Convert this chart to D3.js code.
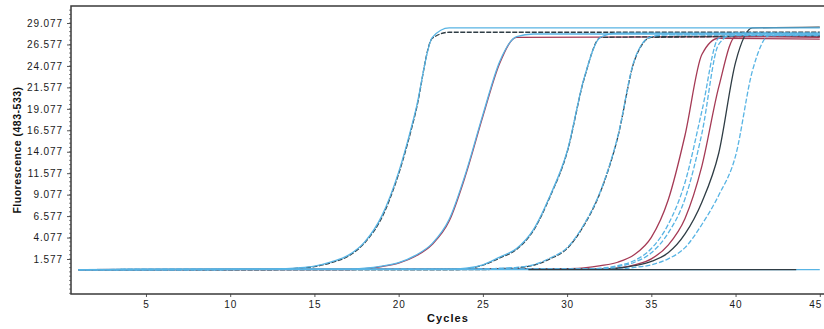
<!DOCTYPE html>
<html>
<head>
<meta charset="utf-8">
<script src="https://cdn.jsdelivr.net/npm/d3@7"></script>
<style>
  body { margin: 0; background: #fff; }
  text { font-family: "Liberation Sans", Arial, sans-serif; }
</style>
</head>
<body>
<div id="chart"></div>
<script>
// tick values
var xTicks = [5, 10, 15, 20, 25, 30, 35, 40, 45];
var yTicks = [1.577, 4.077, 6.577, 9.077, 11.577, 14.077, 16.577, 19.077, 21.577, 24.077, 26.577, 29.077];

// amplification curves, [cycle, fluorescence]
var g1Blue = [[1,0.35],[12,0.4],[13,0.45],[14,0.55],[15,0.75],[16,1.25],[17,2.0],[18,3.6],[19,6.6],[20,11.7],[21,18.8],[22,27.4],[23,28.5],[45,28.5]];
var g1Dark = [[1,0.35],[12,0.33],[13,0.38],[14,0.5],[15,0.7],[16,1.15],[17,1.9],[18,3.5],[19,6.4],[20,11.5],[21,18.6],[22,27.3],[23,28.0],[45,28.0]];
var g2Blue = [[1,0.35],[17,0.4],[18,0.5],[19,0.75],[20,1.15],[21,2.0],[22,3.4],[23,6.2],[24,11.7],[25,18.4],[26,24.6],[27,27.5],[28,27.8],[45,27.8]];
var g2Red  = [[1,0.35],[17,0.33],[18,0.45],[19,0.7],[20,1.1],[21,1.9],[22,3.3],[23,6.0],[24,11.5],[25,18.2],[26,24.4],[27,27.4],[45,27.5]];
var g3Blue = [[1,0.35],[23,0.4],[24,0.5],[25,0.9],[26,1.8],[27,2.8],[28,5.0],[29,9.0],[30,14.1],[31,22.6],[32,27.45],[33,27.9],[45,27.9]];
var g3Dark = [[1,0.35],[23,0.33],[24,0.45],[25,0.85],[26,1.7],[27,2.7],[28,4.9],[29,8.9],[30,14.0],[31,22.5],[32,27.4],[45,27.6]];
var g4Blue = [[1,0.35],[25,0.4],[26,0.5],[27,0.6],[28,0.9],[29,1.7],[30,2.9],[31,5.6],[32,9.6],[33,15.8],[34,24.8],[35,27.5],[36,27.7],[45,27.7]];
var g4Dark = [[1,0.35],[25,0.33],[26,0.45],[27,0.55],[28,0.85],[29,1.6],[30,2.8],[31,5.5],[32,9.5],[33,15.7],[34,24.7],[35,27.4],[45,27.55]];
var g5aRed = [[1,0.35],[29,0.4],[30,0.45],[31,0.55],[32,0.8],[33,1.2],[34,2.1],[35,4.1],[36,8.45],[37,16.0],[38,25.4],[39,27.3],[45,27.2]];
var g5bBlue = [[1,0.35],[31,0.4],[32,0.5],[33,0.8],[34,1.4],[35,2.8],[36,5.6],[37,10.5],[38,18.8],[39,27.3],[40,27.6],[45,27.6]];
var g5cBlue = [[1,0.35],[31,0.4],[32,0.45],[33,0.7],[34,1.2],[35,2.3],[36,4.6],[37,8.6],[38,16.2],[39,26.6],[40,27.9],[45,27.9]];
var g5dRed = [[1,0.35],[32,0.4],[33,0.5],[34,0.9],[35,1.6],[36,3.2],[37,6.3],[38,12.4],[39,21.6],[40,27.5],[45,27.4]];
var g5eDark = [[1,0.35],[32,0.4],[33,0.5],[34,0.8],[35,1.3],[36,2.3],[37,4.5],[38,8.2],[39,13.9],[40,24.5],[41,28.5],[45,28.6]];
var g5fBlue = [[1,0.35],[33,0.4],[34,0.6],[35,0.9],[36,1.6],[37,2.9],[38,5.6],[39,9.0],[40,13.6],[41,23.5],[42,27.6],[45,27.7]];
var ntcBlue = [[1,0.35],[45,0.35]];
var ntcDark = [[27.7,0.35],[43.6,0.35]];

var blue = "#58b4e4", dark = "#2f3d45", red = "#a53a55";

// draw order: dark/red underneath, blue on top, NTC dark last
var series = [
  {pts: g1Dark, color: dark, dash: "5,1.5"},
  {pts: g2Red, color: red, dash: null},
  {pts: g3Dark, color: dark, dash: "5,1.5"},
  {pts: g4Dark, color: dark, dash: "5,1.5"},
  {pts: g5aRed, color: red, dash: null},
  {pts: g5dRed, color: red, dash: null},
  {pts: g5eDark, color: dark, dash: null},
  {pts: ntcBlue, color: blue, dash: null},
  {pts: g1Blue, color: blue, dash: null},
  {pts: g2Blue, color: blue, dash: null},
  {pts: g3Blue, color: blue, dash: null},
  {pts: g4Blue, color: blue, dash: "6,1.5"},
  {pts: g5bBlue, color: blue, dash: "5,2"},
  {pts: g5cBlue, color: blue, dash: "5,2"},
  {pts: g5fBlue, color: blue, dash: "5,2"},
  {pts: ntcDark, color: dark, dash: null}
];

var svgWidth = 824, svgHeight = 329;
var margin = {top: 6, right: 0, bottom: 35, left: 71};
var width = svgWidth - margin.left - margin.right;
var height = svgHeight - margin.top - margin.bottom;

var svg = d3.select("#chart").append("svg")
  .attr("width", svgWidth)
  .attr("height", svgHeight)
  .style("display", "block");

svg.append("rect").attr("width", svgWidth).attr("height", svgHeight).attr("fill", "#fff");

var chartGroup = svg.append("g")
  .attr("transform", `translate(${margin.left}, ${margin.top})`);

var xScale = d3.scaleLinear().domain([0.55, 45.25]).range([0, width]);
var yScale = d3.scaleLinear().domain([-2.5, 31.06]).range([height, 0]);

chartGroup.append("clipPath").attr("id", "plot")
  .append("rect").attr("width", width).attr("height", height);

// minor ticks on y
var minor = d3.range(-2.423, 31, 0.5);
chartGroup.append("g").selectAll("line")
  .data(minor)
  .enter().append("line")
  .attr("x1", -2).attr("x2", 0)
  .attr("y1", d => yScale(d)).attr("y2", d => yScale(d))
  .attr("stroke", "#666").attr("stroke-width", 0.8);

var leftAxis = d3.axisLeft(yScale).tickValues(yTicks)
  .tickFormat(d3.format(".3f")).tickSize(4).tickPadding(4);
var bottomAxis = d3.axisBottom(xScale).tickValues(xTicks).tickSize(3).tickPadding(4);

var yAx = chartGroup.append("g").call(leftAxis);
var xAx = chartGroup.append("g").attr("transform", `translate(0, ${height})`).call(bottomAxis);

[yAx, xAx].forEach(function(ax) {
  ax.select(".domain").remove();
  ax.selectAll("line").attr("stroke", "#555");
  ax.selectAll("text")
    .attr("fill", "#1a1a1a")
    .style("font-size", "10px")
    .style("letter-spacing", "0.9px");
});

// last x label sits at the right edge; keep it inside the picture
xAx.selectAll(".tick text").filter(d => d === 45)
  .attr("text-anchor", "end").attr("dx", "2px");

var line = d3.line()
  .curve(d3.curveMonotoneX)
  .x(d => xScale(d[0])).y(d => yScale(d[1]));

chartGroup.append("g").attr("clip-path", "url(#plot)")
  .selectAll("path")
  .data(series)
  .enter().append("path")
  .attr("d", d => line(d.pts))
  .attr("fill", "none")
  .attr("stroke", d => d.color)
  .attr("stroke-width", 1.3)
  .attr("stroke-dasharray", d => d.dash);

// frame: left, top, bottom
chartGroup.append("path")
  .attr("d", `M${width + 5},0H0V${height}H${width + 5}`)
  .attr("fill", "none")
  .attr("stroke", "#3a3a3a")
  .attr("stroke-width", 1.5);

// axis labels
svg.append("text")
  .attr("x", 448).attr("y", 322)
  .attr("text-anchor", "middle")
  .style("font-size", "11px")
  .style("font-weight", "bold")
  .style("letter-spacing", "1.1px")
  .attr("fill", "#111")
  .text("Cycles");

svg.append("text")
  .attr("transform", "translate(21, 150) rotate(-90)")
  .attr("text-anchor", "middle")
  .style("font-size", "10.5px")
  .style("font-weight", "bold")
  .style("letter-spacing", "0.5px")
  .attr("fill", "#111")
  .text("Fluorescence (483-533)");
</script>
</body>
</html>
